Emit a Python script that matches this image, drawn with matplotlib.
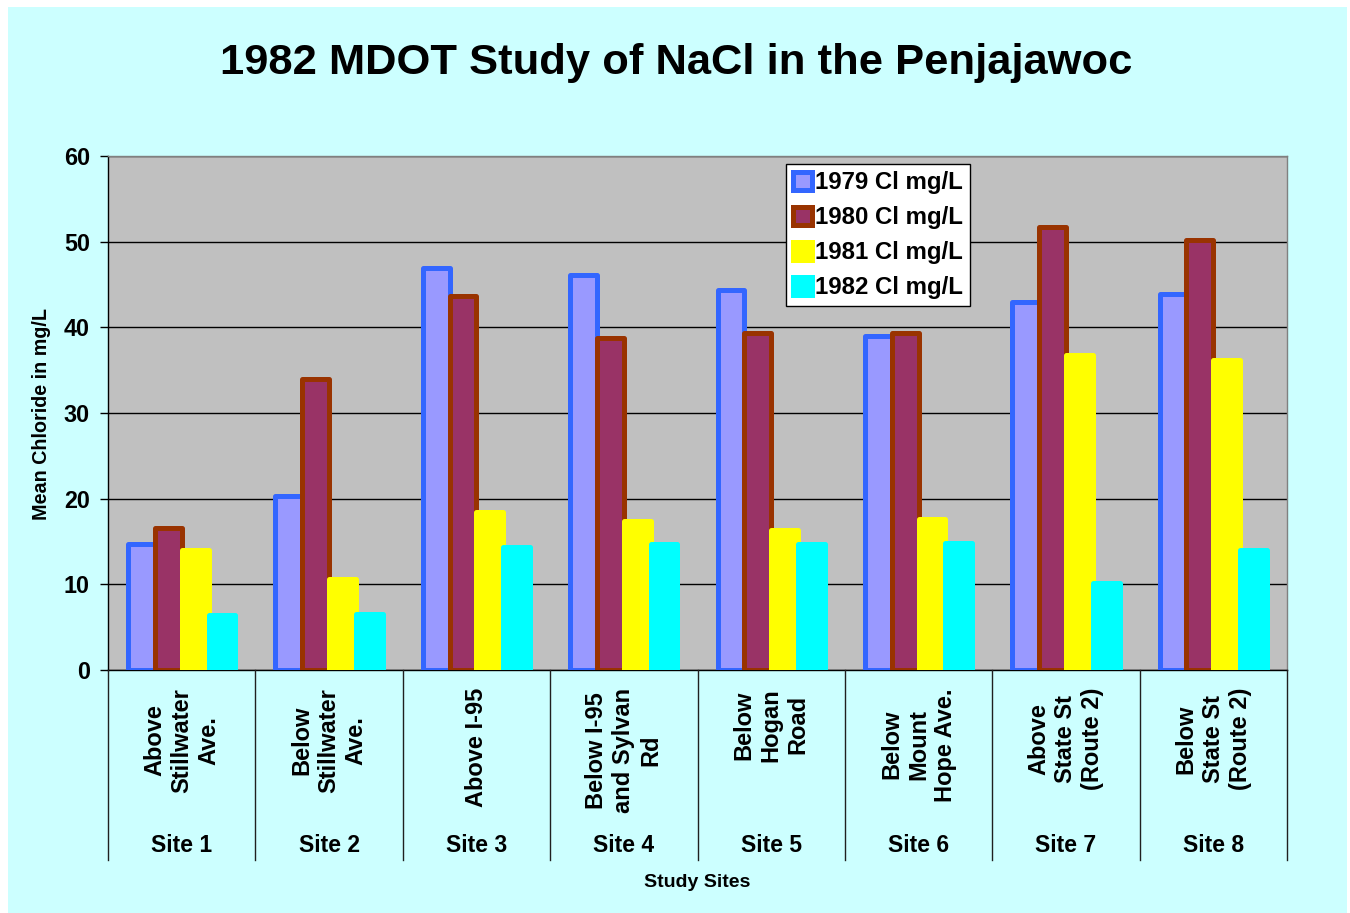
import matplotlib
matplotlib.use('Agg')
import matplotlib.pyplot as plt
from matplotlib.patches import Rectangle
from matplotlib.lines import Line2D
import matplotlib.transforms as mtransforms
import numpy as np

# ---------------- data ----------------
sites = ['Site 1', 'Site 2', 'Site 3', 'Site 4', 'Site 5', 'Site 6', 'Site 7', 'Site 8']
locations = ['Above\nStillwater\nAve.', 'Below\nStillwater\nAve.', 'Above I-95',
             'Below I-95\nand Sylvan\nRd', 'Below\nHogan\nRoad', 'Below\nMount\nHope Ave.',
             'Above\nState St\n(Route 2)', 'Below\nState St\n(Route 2)']
series_names = ['1979 Cl mg/L', '1980 Cl mg/L', '1981 Cl mg/L', '1982 Cl mg/L']
cl_1979 = [14.7, 20.3, 46.9, 46.1, 44.4, 39.0, 43.0, 43.9]
cl_1980 = [16.6, 34.0, 43.6, 38.7, 39.3, 39.3, 51.7, 50.2]
cl_1981 = [14.0, 10.6, 18.4, 17.4, 16.3, 17.6, 36.8, 36.2]
cl_1982 = [6.4, 6.5, 14.3, 14.7, 14.7, 14.8, 10.2, 14.0]
y_ticks = [0, 10, 20, 30, 40, 50, 60]

# ---------------- style ----------------
W, H = 1350, 913
FONT = 'Liberation Sans'
face_colors = ['#9999FF', '#993366', '#FFFF00', '#00FFFF']
edge_colors = ['#3366FF', '#993300', '#FFFF00', '#00FFFF']

plt.rcParams['font.family'] = [FONT, 'DejaVu Sans']
plt.rcParams['font.weight'] = 'bold'

fig = plt.figure(figsize=(W / 100, H / 100), dpi=100)
fig.patch.set_facecolor('white')
fig.patches.append(Rectangle((8 / W, 0), (1347 - 8) / W, 1 - 7 / H,
                             transform=fig.transFigure, facecolor='#CCFFFF',
                             edgecolor='none', zorder=-10))

def fx(px):
    return px / W

def fy(py):
    return 1 - py / H

left, right, top, bottom = 108, 1287, 156, 670
ax = fig.add_axes([fx(left), fy(bottom), fx(right) - fx(left), fy(top) - fy(bottom)])
ax.set_facecolor('#C0C0C0')

x = np.arange(len(sites))
bw = 0.182
all_vals = [cl_1979, cl_1980, cl_1981, cl_1982]
handles = []
for i, vals in enumerate(all_vals):
    bars = ax.bar(x + (i - 1.5) * bw, vals, width=bw, color=face_colors[i],
                  edgecolor=edge_colors[i], linewidth=3.6, zorder=3 + i,
                  label=series_names[i])
    for b in bars:
        b.set_joinstyle('round')
    handles.append(bars)

ax.set_xlim(-0.5, len(sites) - 0.5)
ax.set_ylim(0, 60)
ax.set_yticks(y_ticks)
ax.set_yticklabels([str(t) for t in y_ticks], fontsize=16.8, fontweight='bold')
ax.tick_params(axis='y', direction='out', length=6, width=1, pad=7, color='black')
ax.set_xticks([])
ax.yaxis.grid(True, color='black', linewidth=1)
ax.set_axisbelow(True)
for s in ['top', 'right']:
    ax.spines[s].set_color('#808080')
    ax.spines[s].set_linewidth(1)
for s in ['left', 'bottom']:
    ax.spines[s].set_color('black')
    ax.spines[s].set_linewidth(1)

# category axis (two-level)
trans = mtransforms.blended_transform_factory(ax.transData, fig.transFigure)
for k in range(len(sites) + 1):
    xb = k - 0.5
    fig.add_artist(Line2D([xb, xb], [fy(bottom), fy(860)], transform=trans,
                          color='#202020', linewidth=1, clip_on=False))
for k in range(len(sites)):
    fig.text(k, fy(688), locations[k], transform=trans, rotation=90,
             ha='center', va='top', multialignment='center',
             fontsize=17, fontweight='bold', linespacing=1.22)
    fig.text(k, fy(845), sites[k], transform=trans, ha='center', va='center',
             fontsize=16.5, fontweight='bold')

# titles
fig.text(fx(676.5), fy(63), '1982 MDOT Study of NaCl in the Penjajawoc',
         ha='center', va='center', fontsize=31.3, fontweight='bold')
fig.text(fx(42), fy(414), 'Mean Chloride in mg/L', rotation=90,
         ha='center', va='center', fontsize=14.2, fontweight='bold')
fig.text(fx(697), fy(882), 'Study Sites', ha='center', va='center',
         fontsize=14, fontweight='bold')

leg = ax.legend(handles=handles, labels=series_names, loc='upper left',
                bbox_to_anchor=(fx(786), fy(164)), bbox_transform=fig.transFigure,
                borderaxespad=0, fancybox=False, framealpha=1, edgecolor='black',
                prop={'family': FONT, 'weight': 'bold', 'size': 17.3},
                handlelength=0.8, handleheight=0.8, handletextpad=0.12,
                labelspacing=0.5, borderpad=0.3)
leg.get_frame().set_linewidth(1)
leg.set_zorder(20)

fig.savefig('out.png', dpi=100, facecolor=fig.get_facecolor())
